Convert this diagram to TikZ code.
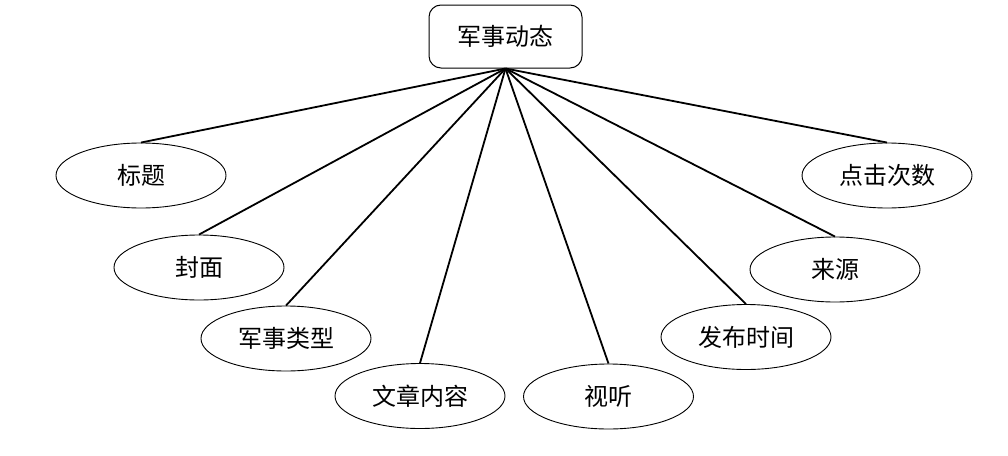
\documentclass[tikz,border=0pt]{standalone}
\usepackage{fontspec}
\newfontfamily\cjk{Noto Sans CJK SC}
\usetikzlibrary{shapes.geometric}
\begin{document}
\begin{tikzpicture}[x=1pt,y=-1pt,
  attr/.style={ellipse,draw,line width=0.9pt,minimum width=170pt,minimum height=65pt,inner sep=0pt,font=\cjk\fontsize{24}{27}\selectfont},
  topbox/.style={rectangle,rounded corners=12pt,draw,line width=1pt,minimum width=153pt,minimum height=63pt,inner sep=0pt,font=\cjk\fontsize{24}{27}\selectfont},
  link/.style={line width=1.8pt}]
\useasboundingbox (0,0) rectangle (1008,455);
\node[topbox] (top) at (505.5,36.5) {军事动态};
\node[attr] (t1) at (141,175.5) {标题};
\node[attr] (t2) at (199,267.5) {封面};
\node[attr] (t3) at (286,338.5) {军事类型};
\node[attr] (t4) at (420,396) {文章内容};
\node[attr] (t5) at (608.5,396.5) {视听};
\node[attr] (t6) at (746,337) {发布时间};
\node[attr] (t7) at (835,269.5) {来源};
\node[attr] (t8) at (887,175.5) {点击次数};
\foreach \n in {t1,t2,t3,t4,t5,t6,t7,t8}
  \draw[link] (top.south) -- (\n.north);
\end{tikzpicture}
\end{document}
